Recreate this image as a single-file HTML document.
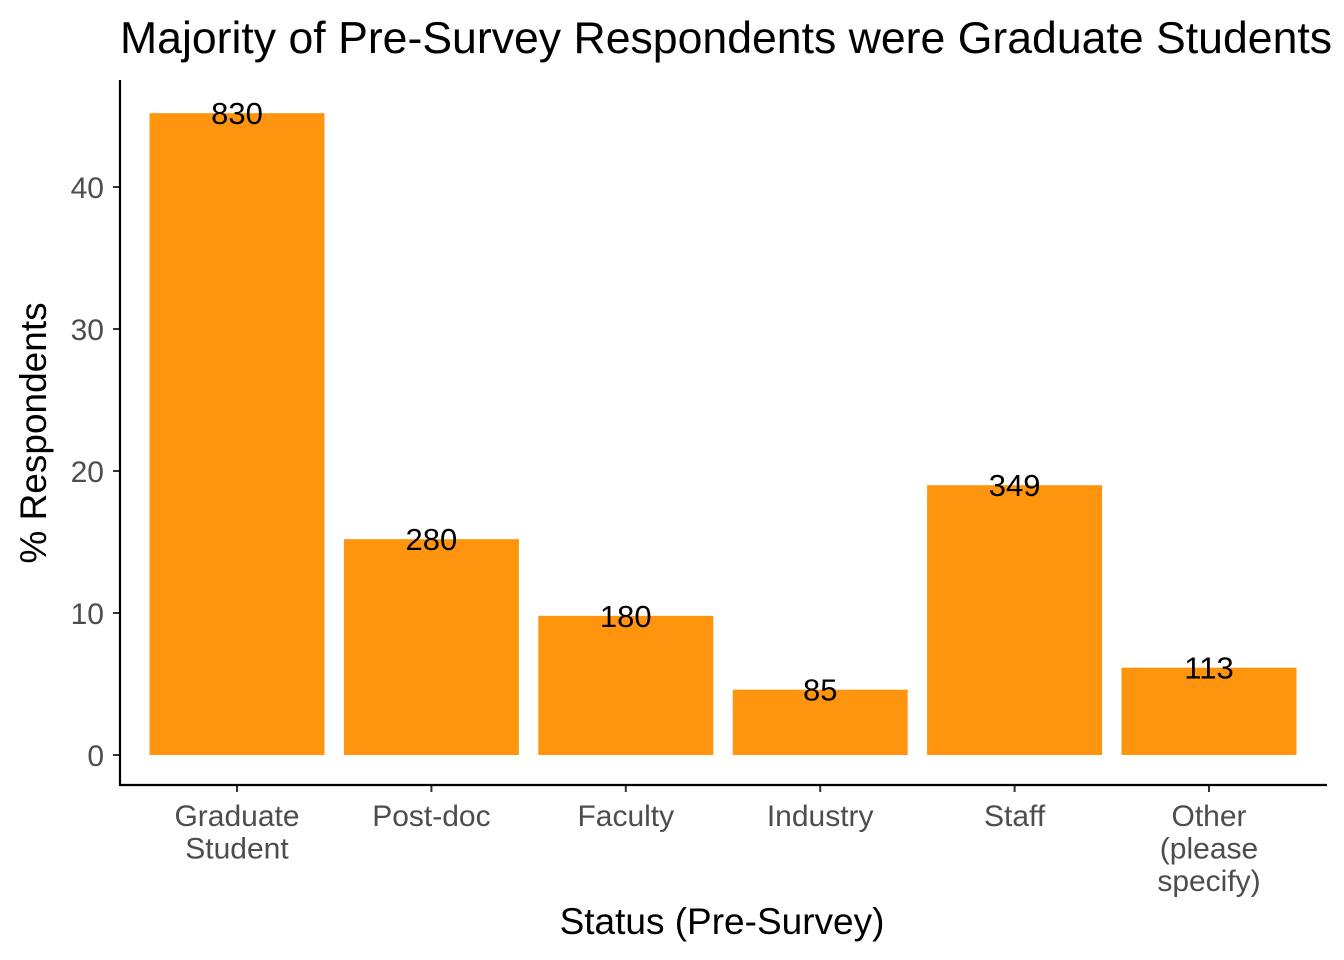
<!DOCTYPE html>
<html><head><meta charset="utf-8">
<style>
html,body{margin:0;padding:0;background:#fff;}
svg{display:block;font-family:"Liberation Sans",Arial,sans-serif;}
</style></head>
<body>
<svg id="chart" width="1344" height="960" viewBox="0 0 1344 960">
<text x="120" y="53" text-anchor="start" font-size="44.6" fill="#000">Majority of Pre-Survey Respondents were Graduate Students</text>
<g id="bars"></g>
<g id="labels"></g>
<g id="yaxis"></g>
<g id="xaxis"></g>
<line x1="120" y1="80" x2="120" y2="786" stroke="#000" stroke-width="2.2"/>
<line x1="119" y1="785" x2="1327" y2="785" stroke="#000" stroke-width="2.2"/>
<text x="722" y="934" text-anchor="middle" font-size="37" fill="#000">Status (Pre-Survey)</text>
<text transform="translate(46,433) rotate(-90)" text-anchor="middle" font-size="37" fill="#000">% Respondents</text>
</svg>
<script>
const categories = [["Graduate","Student"],["Post-doc"],["Faculty"],["Industry"],["Staff"],["Other","(please","specify)"]];
const percents = [45.2, 15.2, 9.8, 4.6, 19.0, 6.15];
const counts = [830, 280, 180, 85, 349, 113];
const yTicks = [0, 10, 20, 30, 40];

const NS = "http://www.w3.org/2000/svg";
const y0 = 755, pxPerUnit = 14.2;
const yScale = v => y0 - v * pxPerUnit;
const xStart = 237, step = 194.4, barW = 175;
const xScale = i => xStart + i * step;

function mk(tag, attrs, parent){
  const e = document.createElementNS(NS, tag);
  for (const k in attrs) e.setAttribute(k, attrs[k]);
  parent.appendChild(e);
  return e;
}
const gb = document.getElementById("bars");
const gl = document.getElementById("labels");
const gy = document.getElementById("yaxis");
const gx = document.getElementById("xaxis");

percents.forEach((v, i) => {
  const cx = xScale(i);
  const r = mk("rect", {x: cx - barW/2, y: yScale(v), width: barW, height: yScale(0) - yScale(v), fill: "#FF950E"}, gb);
  
  
  const t = mk("text", {x: cx, y: yScale(v) + 11, "text-anchor": "middle", "font-size": "31", fill: "#000"}, gl);
  t.textContent = counts[i];
  
  
  const tk = mk("line", {x1: cx, x2: cx, y1: 785, y2: 792, stroke: "#333", "stroke-width": 2}, gx);
  
  
  const lab = mk("text", {x: cx, y: 826, "text-anchor": "middle", "font-size": "30", fill: "#4d4d4d"}, gx);
  
  
  categories[i].forEach((line, j) => {
    const ts = mk("tspan", {x: cx, dy: j === 0 ? 0 : 32.5}, lab);
    ts.textContent = line;
  });
});

yTicks.forEach(v => {
  const y = yScale(v);
  const tk = mk("line", {x1: 113, x2: 120, y1: y, y2: y, stroke: "#333", "stroke-width": 2}, gy);
  
  
  const t = mk("text", {x: 104, y: y + 11, "text-anchor": "end", "font-size": "30", fill: "#4d4d4d"}, gy);
  t.textContent = v;
  
  
});
</script>
</body></html>
